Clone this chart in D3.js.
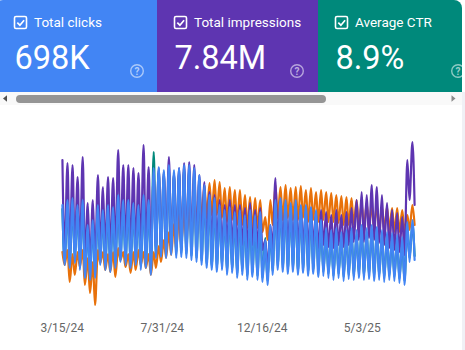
<!DOCTYPE html>
<html><head><meta charset="utf-8">
<script src="https://cdn.jsdelivr.net/npm/d3@7/dist/d3.min.js"></script>
<style>html,body{margin:0;padding:0;background:#fff;overflow:hidden}</style>
</head><body><svg id="c" width="465" height="350"></svg>
<script>
// ---------------- data ----------------
const cardLabels = ["Total clicks", "Total impressions", "Average CTR"];
const cardValues = ["698K", "7.84M", "8.9%"];
const tickLabels = ["3/15/24", "7/31/24", "12/16/24", "5/3/25"];
const startDate = "3/15/24";
const weekCount = 70;

// one weekday (high-traffic) and one weekend value per week
const clicksWeekday = [2100,2200,2240,2100,2200,1700,1800,2100,2000,2100,
  2060,2300,2200,2200,2140,2100,2300,2200,2840,2860,
  2800,2900,2800,2840,2900,2900,2840,2700,2500,2300,
  2240,2100,2000,2060,1960,2000,1900,2000,1900,1960,
  1400,1700,2200,2240,2200,2140,2200,2100,2100,2060,
  2000,1800,1640,1600,1640,1560,1600,1640,1600,1700,
  1640,1700,1660,1600,1560,1540,1500,1460,1760,1800];
const clicksWeekend = [900,840,940,800,640,600,640,900,800,760,
  840,960,900,840,900,800,840,700,1040,1060,
  1040,1100,1040,1060,1040,1000,960,900,840,800,
  760,800,700,740,640,700,600,660,600,560,
  500,700,800,760,720,760,700,740,680,720,
  660,680,640,600,640,580,620,600,640,600,
  620,580,600,560,600,580,540,500,960,1000];

const impressionsWeekday = [30000,29400,29000,26600,30600,21400,22000,27000,24600,26600,
  26400,32000,29000,29000,28400,27400,33000,28600,27000,28400,
  27600,30600,27400,28400,29400,29600,29000,27000,25600,23600,
  23000,22000,21000,22000,21000,21000,20400,21400,20000,20400,
  14000,17000,26400,22000,21000,20600,21000,20400,20000,20400,
  19600,20000,19600,19000,20000,19000,19600,20400,22000,23600,
  23000,25000,24600,23000,21400,20000,19400,18600,30000,33600];
const impressionsWeekend = [11600,11000,12000,11000,10400,9000,9600,12000,11400,11000,
  11600,12400,12000,11400,12000,11600,12000,11000,12400,12000,
  12400,12000,12400,12000,12000,13000,13000,13400,13000,14000,
  13600,13000,13400,13000,12600,13000,12400,13000,12400,12000,
  8000,12000,13400,13000,13600,13000,13400,13000,12600,13000,
  12400,13000,12600,12400,13000,12600,13000,13600,14000,13600,
  14400,14000,13400,13000,12400,12000,11600,11000,22000,21000];

const ctrWeekday = [10.1,10.6,10.8,10.1,10.6,8.1,8.6,10.1,9.6,10.1,
  9.9,11.1,10.6,10.6,10.3,10.1,11.1,10.6,15.8,13.9,
  13.6,14.1,13.6,13.8,14.1,14.1,13.8,13.1,12.1,11.1,
  10.8,10.1,9.6,9.9,9.4,9.6,9.1,9.6,9.1,9.4,
  7.2,8.1,10.6,10.8,10.6,10.3,10.6,10.1,10.1,9.9,
  9.6,8.6,7.8,7.6,7.8,7.4,7.6,7.8,7.6,8.1,
  7.8,8.1,7.9,7.6,7.4,7.3,7.1,6.9,8.4,8.6];
const ctrWeekend = [4.9,4.6,5.1,4.4,3.6,3.4,3.6,4.9,4.4,4.2,
  4.6,5.2,4.9,4.6,4.9,4.4,4.6,3.9,5.6,5.7,
  5.6,5.9,5.6,5.7,5.6,5.4,5.2,4.9,4.6,4.4,
  4.2,4.4,3.9,4.1,3.6,3.9,3.4,3.7,3.4,3.2,
  2.9,3.9,4.4,4.2,4.0,4.2,3.9,4.1,3.8,4.0,
  3.7,3.8,3.6,3.4,3.6,3.3,3.5,3.4,3.6,3.4,
  3.5,3.3,3.4,3.2,3.4,3.3,3.1,2.9,5.2,5.4];

const positionWeekday = [6.1,6.0,6.2,6.1,6.0,6.4,6.6,6.0,6.1,6.2,
  6.1,5.9,6.1,6.2,6.1,6.0,6.1,6.2,6.1,5.8,
  5.5,5.1,4.7,4.25,3.75,3.4,3.1,3.0,2.75,2.65,
  2.5,2.6,2.9,2.85,3.0,3.0,3.25,3.35,3.4,3.5,
  4.35,3.5,2.75,2.85,2.75,2.9,2.85,2.8,3.0,2.9,
  3.1,3.0,3.1,3.15,3.25,3.3,3.35,3.4,3.5,3.65,
  3.65,3.75,3.75,3.85,3.85,3.9,3.9,4.0,4.25,3.75];
const positionWeekend = [6.75,7.6,7.25,6.85,7.75,8.15,8.75,6.65,7.0,7.1,
  7.35,6.5,6.85,7.15,7.0,6.75,6.9,7.25,6.9,6.6,
  6.4,6.25,6.0,5.75,5.4,5.1,4.75,4.5,4.4,4.25,
  4.25,4.4,4.6,4.5,4.75,4.75,4.9,5.0,4.9,5.1,
  5.5,4.75,4.4,4.5,4.4,4.5,4.5,4.4,4.6,4.5,
  4.6,4.5,4.6,4.6,4.65,4.75,4.75,4.75,4.8,4.9,
  4.9,4.9,5.0,5.0,5.0,5.1,5.1,5.1,5.0,4.75];

// ---------------- drawing ----------------
const parse = d3.timeParse("%m/%d/%y");
const t0 = parse(startDate);
const tickDates = tickLabels.map(parse);
const tEnd = d3.timeDay.offset(t0, 487);

const W = 465, H = 350;
const svg = d3.select("#c");
svg.append("rect").attr("width", W).attr("height", H).attr("fill", "#fff");

// metric cards
const cardStyle = [
  {x: -3, w: 160, fill: "#4285F4"},
  {x: 157, w: 161, fill: "#5E35B1"},
  {x: 318, w: 161, fill: "#00897B"}
];
const defs = svg.append("defs");
defs.append("clipPath").attr("id", "cardClip")
  .append("rect").attr("x", -5).attr("y", 0).attr("width", 467).attr("height", 130).attr("rx", 8);
const cardsG = svg.append("g").attr("clip-path", "url(#cardClip)");
cardLabels.forEach((lab, i) => {
  const s = cardStyle[i];
  const g = cardsG.append("g").attr("transform", `translate(${s.x},0)`);
  g.append("rect").attr("width", s.w).attr("height", 92).attr("fill", s.fill);
  g.append("rect").attr("x", 17.5).attr("y", 16.5).attr("width", 12).attr("height", 12).attr("rx", 1.5)
    .attr("fill", "none").attr("stroke", "#fff").attr("stroke-width", 1.6);
  g.append("path").attr("d", "M20.3,22.6 L22.9,25.2 L27.1,20.2")
    .attr("fill", "none").attr("stroke", "#fff").attr("stroke-width", 1.7);
  g.append("text").attr("x", 37).attr("y", 26.5).text(lab)
    .attr("fill", "#fff").attr("font-family", "Roboto, sans-serif").attr("font-size", 13.5);
  g.append("text").attr("x", 17.5).attr("y", 68.5).text(cardValues[i])
    .attr("fill", "#fff").attr("font-family", "Roboto, sans-serif").attr("font-size", 32.5);
  g.append("circle").attr("cx", 140).attr("cy", 71).attr("r", 6.3)
    .attr("fill", "none").attr("stroke", "rgba(255,255,255,0.55)").attr("stroke-width", 1.4);
  g.append("text").attr("x", 140).attr("y", 74.6).attr("text-anchor", "middle").text("?")
    .attr("fill", "rgba(255,255,255,0.6)").attr("font-family", "Roboto, sans-serif")
    .attr("font-size", 10).attr("font-weight", 700);
});

// horizontal scrollbar
svg.append("rect").attr("x", 0).attr("y", 92).attr("width", W).attr("height", 13).attr("fill", "#f9f9f9");
svg.append("path").attr("d", "M7,95.3 L7,101.7 L3,98.5 Z").attr("fill", "#505050");
svg.append("rect").attr("x", 16).attr("y", 95).attr("width", 310).attr("height", 8).attr("rx", 4).attr("fill", "#959595");
svg.append("path").attr("d", "M451.5,95.3 L451.5,101.7 L455.5,98.5 Z").attr("fill", "#8a8a8a");
svg.append("rect").attr("x", 462).attr("y", 92).attr("width", 3).attr("height", H - 92).attr("fill", "#f0f0f5");

// scales
const x = d3.scaleTime().domain([t0, tEnd]).range([61.7, 61.7 + 487 * 100 / 138]);
const yClicks = d3.scaleLinear().domain([0, 3600]).range([310, 130]);
const yImpr = d3.scaleLinear().domain([0, 36000]).range([310, 130]);
const yCtr = d3.scaleLinear().domain([0, 18]).range([310, 130]);
const yPos = d3.scaleLinear().domain([0, 9]).range([130, 310]);

function series(weekday, weekend) {
  const pts = [];
  for (let i = 0; i < weekCount; i++) {
    pts.push({d: d3.timeDay.offset(t0, 7 * i + 1), v: weekday[i]});
    pts.push({d: d3.timeDay.offset(t0, 7 * i + 4), v: weekend[i]});
  }
  return pts;
}

const lines = [
  {data: series(ctrWeekday, ctrWeekend), y: yCtr, color: "#00897B"},
  {data: series(positionWeekday, positionWeekend), y: yPos, color: "#E8710A"},
  {data: series(impressionsWeekday, impressionsWeekend), y: yImpr, color: "#5E35B1"},
  {data: series(clicksWeekday, clicksWeekend), y: yClicks, color: "#4285F4"}
];
const plot = svg.append("g");
lines.forEach(L => {
  const gen = d3.line().x(p => x(p.d)).y(p => L.y(p.v)).curve(d3.curveMonotoneX);
  plot.append("path").datum(L.data).attr("d", gen)
    .attr("fill", "none").attr("stroke", L.color).attr("stroke-width", 2.2)
    .attr("stroke-linejoin", "round").attr("stroke-linecap", "round");
});

// x axis
const axis = d3.axisBottom(x).tickValues(tickDates).tickFormat((d, i) => tickLabels[i]).tickSize(0).tickPadding(3.5);
const ax = svg.append("g").attr("transform", "translate(0,320)").call(axis);
ax.select(".domain").remove();
ax.selectAll("text").attr("fill", "#666").attr("font-family", "Roboto, sans-serif").attr("font-size", 12);
</script>
</body></html>
